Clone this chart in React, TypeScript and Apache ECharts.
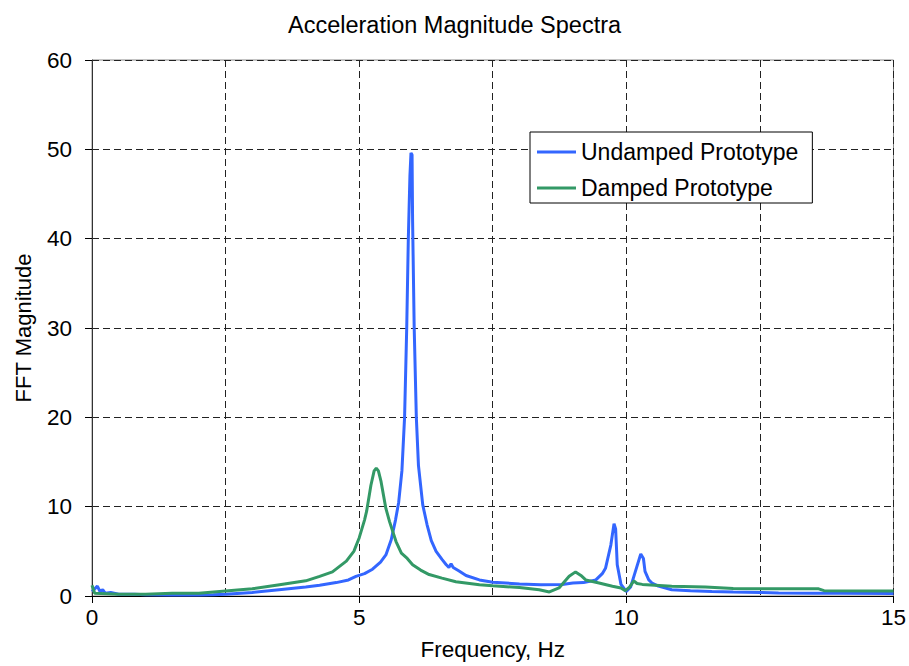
import React, { useEffect, useRef } from "react";
import * as echarts from "echarts";

const titleText = "Acceleration Magnitude Spectra";
const xAxisName = "Frequency, Hz";
const yAxisName = "FFT Magnitude";
const seriesNames = ["Undamped Prototype", "Damped Prototype"];

const undampedFreq = [
  0.0, 0.05, 0.1, 0.15, 0.2, 0.25, 0.35, 0.5, 0.8, 1.0, 1.5, 2.0, 2.27, 2.5, 3.0, 3.5, 4.0, 4.26, 4.57, 4.8, 4.94,
  5.1, 5.25, 5.4, 5.5, 5.6, 5.68, 5.74, 5.8, 5.85, 5.89, 5.92, 5.95, 5.97, 5.99, 6.0, 6.03, 6.07, 6.11, 6.19, 6.27,
  6.35, 6.44, 6.55, 6.63, 6.68, 6.72, 6.76, 6.87, 7.0, 7.25, 7.5, 8.0, 8.4, 8.8, 9.0, 9.2, 9.43, 9.55, 9.61, 9.71,
  9.77, 9.8, 9.83, 9.9, 9.95, 10.0, 10.08, 10.17, 10.27, 10.32, 10.35, 10.42, 10.48, 10.6, 10.85, 11.2, 11.6, 12.0,
  12.5, 12.85, 13.5, 14.0, 15.0,
];
const undampedMag = [
  0.5, 0.8, 1.1, 0.5, 0.7, 0.3, 0.4, 0.2, 0.2, 0.15, 0.1, 0.1, 0.15, 0.2, 0.4, 0.7, 1.0, 1.2, 1.5, 1.8, 2.2,
  2.5, 3.0, 3.8, 4.6, 6.3, 8.5, 10.5, 14, 20, 30, 40, 47, 49.6, 49.4, 42, 30, 20, 14.6, 10.2, 8.0,
  6.2, 5.0, 4.1, 3.5, 3.2, 3.6, 3.2, 2.8, 2.3, 1.8, 1.55, 1.35, 1.25, 1.3, 1.45, 1.5, 1.8, 2.5, 3.1, 5.7,
  8.1, 7.5, 3.5, 1.3, 0.9, 0.5, 1.0, 2.75, 4.7, 4.2, 2.75, 1.8, 1.45, 1.1, 0.7, 0.6, 0.5, 0.45,
  0.4, 0.33, 0.3, 0.3, 0.28,
];

const dampedFreq = [
  0.0, 0.05, 0.5, 1.0, 1.5, 2.0, 2.5, 3.0, 3.51, 4.0, 4.26, 4.5, 4.76, 4.9, 5.0, 5.1, 5.14, 5.22, 5.28, 5.32, 5.36,
  5.41, 5.5, 5.57, 5.69, 5.79, 5.9, 6.0, 6.15, 6.31, 6.55, 6.81, 7.25, 7.5, 8.0, 8.37, 8.56, 8.74, 8.93, 9.05, 9.15,
  9.24, 9.49, 9.74, 9.9, 9.98, 10.06, 10.14, 10.2, 10.3, 10.85, 11.48, 12.0, 13.0, 13.6, 13.7, 15.0,
];
const dampedMag = [
  1.2, 0.3, 0.2, 0.2, 0.3, 0.3, 0.55, 0.8, 1.26, 1.7, 2.2, 2.7, 3.9, 5.0, 6.5, 8.5, 9.5, 12.4, 14.0, 14.3, 14.0,
  12.8, 9.8, 8.3, 6.1, 4.8, 4.2, 3.5, 2.9, 2.4, 2.0, 1.6, 1.26, 1.15, 0.95, 0.7, 0.45, 0.9, 2.2, 2.7, 2.3,
  1.8, 1.45, 1.1, 0.9, 0.6, 1.0, 1.7, 1.4, 1.3, 1.1, 1.0, 0.85, 0.8, 0.8, 0.6, 0.55,
];

const xMin = 0;
const xMax = 15;
const xInterval = 5;
const yMin = 0;
const yMax = 60;
const yInterval = 10;

const FONT = "'Liberation Sans', Arial, sans-serif";

export default function App() {
  const ref = useRef<HTMLDivElement>(null);

  useEffect(() => {
    if (!ref.current) return;
    const chart = echarts.init(ref.current, null, { renderer: "svg" });
    const gridLine = { color: "#222", width: 1, type: [7, 4] as any };
    chart.setOption({
      animation: false,
      backgroundColor: "#fff",
      title: {
        text: titleText,
        left: "center",
        top: 8,
        textStyle: { fontFamily: FONT, fontSize: 23.5, fontWeight: "normal", color: "#000" },
      },
      legend: {
        orient: "vertical",
        left: 530,
        top: 132,
        icon: "rect",
        itemWidth: 39,
        itemHeight: 3,
        itemGap: 12,
        padding: [8, 14, 3, 7],
        backgroundColor: "#fff",
        borderColor: "#000",
        borderWidth: 1,
        textStyle: { fontFamily: FONT, fontSize: 23, color: "#000", lineHeight: 24 },
        data: seriesNames,
      },
      grid: {
        left: 92,
        right: 14,
        top: 60,
        bottom: 68,
        show: true,
        borderColor: "#888",
        borderWidth: 1,
        backgroundColor: "transparent",
      },
      xAxis: {
        type: "value",
        min: xMin,
        max: xMax,
        interval: xInterval,
        name: xAxisName,
        nameLocation: "middle",
        nameGap: 42,
        nameTextStyle: { fontFamily: FONT, fontSize: 22.5, color: "#000" },
        axisLine: { show: true, lineStyle: { color: "#000", width: 1 } },
        axisTick: { show: true, inside: false, length: 7, lineStyle: { color: "#000" } },
        axisLabel: { fontFamily: FONT, fontSize: 22.5, color: "#000", margin: 10 },
        splitLine: { show: true, lineStyle: gridLine },
        minorTick: { show: false, splitNumber: 2 },
        minorSplitLine: { show: true, lineStyle: gridLine },
      },
      yAxis: {
        type: "value",
        min: yMin,
        max: yMax,
        interval: yInterval,
        name: yAxisName,
        nameLocation: "middle",
        nameGap: 58,
        nameTextStyle: { fontFamily: FONT, fontSize: 22, color: "#000" },
        axisLine: { show: true, lineStyle: { color: "#333", width: 1 } },
        axisTick: { show: true, inside: false, length: 7, lineStyle: { color: "#000" } },
        axisLabel: { fontFamily: FONT, fontSize: 22.5, color: "#000", margin: 20 },
        splitLine: { show: true, lineStyle: gridLine },
      },
      series: [
        {
          name: seriesNames[0],
          type: "line",
          symbol: "none",
          lineStyle: { color: "#3366FF", width: 3 },
          itemStyle: { color: "#3366FF" },
          data: undampedFreq.map((f, i) => [f, undampedMag[i]]),
        },
        {
          name: seriesNames[1],
          type: "line",
          symbol: "none",
          lineStyle: { color: "#339966", width: 3 },
          itemStyle: { color: "#339966" },
          data: dampedFreq.map((f, i) => [f, dampedMag[i]]),
        },
      ],
    });
    return () => chart.dispose();
  }, []);

  return (
    <div
      ref={ref}
      style={{ position: "fixed", left: 0, top: 0, width: 909, height: 666, background: "#fff" }}
    />
  );
}
